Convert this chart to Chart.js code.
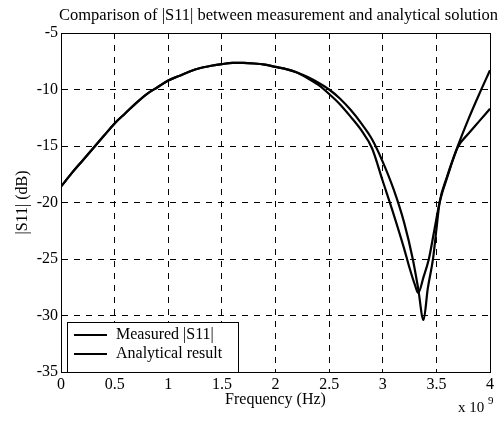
<!DOCTYPE html>
<html>
<head>
<meta charset="utf-8">
<script src="https://cdn.jsdelivr.net/npm/chart.js@4/dist/chart.umd.min.js"></script>
<style>
  html, body { margin: 0; padding: 0; background: #fff; }
  #wrap { width: 501px; height: 421px; }
</style>
</head>
<body>
<div id="wrap"><canvas id="grafS11" width="501" height="421"></canvas></div>
<script>
// frequency in GHz (axis shows x 10^9 Hz)
var freqShared = [0, 0.1, 0.2, 0.3, 0.4, 0.5, 0.6, 0.7, 0.8, 0.9, 1.0, 1.1, 1.2, 1.3, 1.4, 1.5, 1.6, 1.7, 1.8, 1.9, 2.0, 2.1, 2.2];
var s11Shared = [-18.6, -17.4, -16.3, -15.2, -14.1, -13.0, -12.1, -11.2, -10.4, -9.8, -9.2, -8.8, -8.4, -8.1, -7.9, -7.75, -7.65, -7.65, -7.7, -7.8, -8.0, -8.2, -8.5];

var freqMeasured = [2.3, 2.4, 2.5, 2.6, 2.7, 2.8, 2.9, 3.0, 3.1, 3.2, 3.25, 3.3, 3.33, 3.38, 3.43, 3.48, 3.53, 3.6, 3.7, 3.8, 3.9, 4.0];
var s11Measured = [-9.0, -9.6, -10.4, -11.3, -12.4, -13.6, -15.2, -18.1, -21.0, -24.1, -25.8, -27.3, -28.0, -26.6, -25.0, -22.5, -20.0, -17.8, -15.1, -13.9, -12.8, -11.7];

var freqAnalytical = [2.3, 2.4, 2.5, 2.6, 2.7, 2.8, 2.9, 3.0, 3.1, 3.2, 3.28, 3.33, 3.38, 3.42, 3.47, 3.5, 3.53, 3.6, 3.7, 3.8, 3.9, 4.0];
var s11Analytical = [-8.9, -9.4, -10.0, -10.8, -11.8, -13.0, -14.4, -16.4, -18.8, -21.8, -25.0, -27.6, -30.4, -27.6, -24.9, -22.4, -20.0, -17.7, -15.0, -12.6, -10.4, -8.3];

var xTicks = [0, 0.5, 1, 1.5, 2, 2.5, 3, 3.5, 4];
var yTicks = [-35, -30, -25, -20, -15, -10, -5];

var seriesNames = ["Measured |S11|", "Analytical result"];
var titleText = "Comparison of |S11| between measurement and analytical solution";

function toPoints(fx, vy) {
  var pts = [];
  for (var i = 0; i < fx.length; i++) pts.push({x: fx[i], y: vy[i]});
  return pts;
}

var serif = "'Liberation Serif', 'DejaVu Serif', serif";

// frame, title, legend box and exponent label
var extras = {
  id: "extras",
  afterDraw: function(chart) {
    var ctx = chart.ctx;
    var a = chart.chartArea;
    ctx.save();
    ctx.setLineDash([]);
    ctx.strokeStyle = "#000";
    ctx.lineWidth = 1;
    ctx.strokeRect(a.left + 0.5, a.top + 0.5, a.right - a.left, a.bottom - a.top);

    ctx.fillStyle = "#000";
    ctx.font = "16.5px " + serif;
    ctx.textAlign = "center";
    ctx.textBaseline = "alphabetic";
    ctx.fillText(titleText, (a.left + a.right) / 2 + 3, 20);

    // legend
    var bx = a.left + 6, by = a.bottom - 50, bw = 171, bh = 50;
    ctx.fillStyle = "#fff";
    ctx.fillRect(bx, by, bw, bh);
    ctx.strokeRect(bx + 0.5, by + 0.5, bw, bh);
    ctx.font = "16px " + serif;
    ctx.textAlign = "left";
    ctx.textBaseline = "middle";
    var ds = chart.data.datasets;
    for (var i = 0; i < ds.length; i++) {
      var ly = by + 13 + i * 19;
      ctx.strokeStyle = "#000";
      ctx.lineWidth = 2.2;
      ctx.beginPath();
      ctx.moveTo(bx + 7, ly);
      ctx.lineTo(bx + 40, ly);
      ctx.stroke();
      ctx.fillStyle = "#000";
      ctx.fillText(ds[i].label, bx + 49, ly);
    }

    ctx.textAlign = "left";
    ctx.textBaseline = "alphabetic";
    ctx.font = "15px " + serif;
    ctx.fillText("x 10", 458, 412);
    ctx.font = "11px " + serif;
    ctx.fillText("9", 488, 404);
    ctx.restore();
  }
};

var ctxS11 = document.getElementById("grafS11").getContext("2d");

var grafico = new Chart(ctxS11, {
  type: "line",
  data: {
    datasets: [{
      label: seriesNames[0],
      data: toPoints(freqShared.concat(freqMeasured), s11Shared.concat(s11Measured)),
      borderColor: "#000",
      borderWidth: 2.2,
      pointRadius: 0,
      fill: false,
      cubicInterpolationMode: "monotone"
    }, {
      label: seriesNames[1],
      data: toPoints(freqShared.concat(freqAnalytical), s11Shared.concat(s11Analytical)),
      borderColor: "#000",
      borderWidth: 2.2,
      pointRadius: 0,
      fill: false,
      cubicInterpolationMode: "monotone"
    }]
  },
  options: {
    responsive: false,
    animation: false,
    layout: { padding: { top: 33, right: 11, left: 0, bottom: 0 } },
    plugins: {
      legend: { display: false },
      title: { display: false },
      tooltip: { enabled: false }
    },
    scales: {
      x: {
        type: "linear",
        min: 0,
        max: 4,
        afterBuildTicks: function(scale) {
          scale.ticks = xTicks.map(function(v) { return {value: v}; });
        },
        afterFit: function(scale) { scale.height = 49; },
        ticks: {
          color: "#000",
          font: { family: serif, size: 16 },
          padding: 3,
          maxRotation: 0,
          autoSkip: false,
          callback: function(v) { return String(v); }
        },
        grid: { color: "#000", lineWidth: 1, drawTicks: false },
        border: { color: "#000", width: 1, dash: [6, 6] },
        title: {
          display: true,
          text: "Frequency (Hz)",
          color: "#000",
          font: { family: serif, size: 16 },
          padding: { top: 0, bottom: 12 }
        }
      },
      y: {
        type: "linear",
        min: -35,
        max: -5,
        afterBuildTicks: function(scale) {
          scale.ticks = yTicks.map(function(v) { return {value: v}; });
        },
        afterFit: function(scale) { scale.width = 61; },
        ticks: {
          color: "#000",
          font: { family: serif, size: 16 },
          padding: 3,
          autoSkip: false
        },
        grid: { color: "#000", lineWidth: 1, drawTicks: false },
        border: { color: "#000", width: 1, dash: [6, 6] },
        title: {
          display: true,
          text: "|S11| (dB)",
          color: "#000",
          font: { family: serif, size: 16 },
          padding: { top: 13, bottom: 0 }
        }
      }
    }
  },
  plugins: [extras]
});
</script>
</body>
</html>
